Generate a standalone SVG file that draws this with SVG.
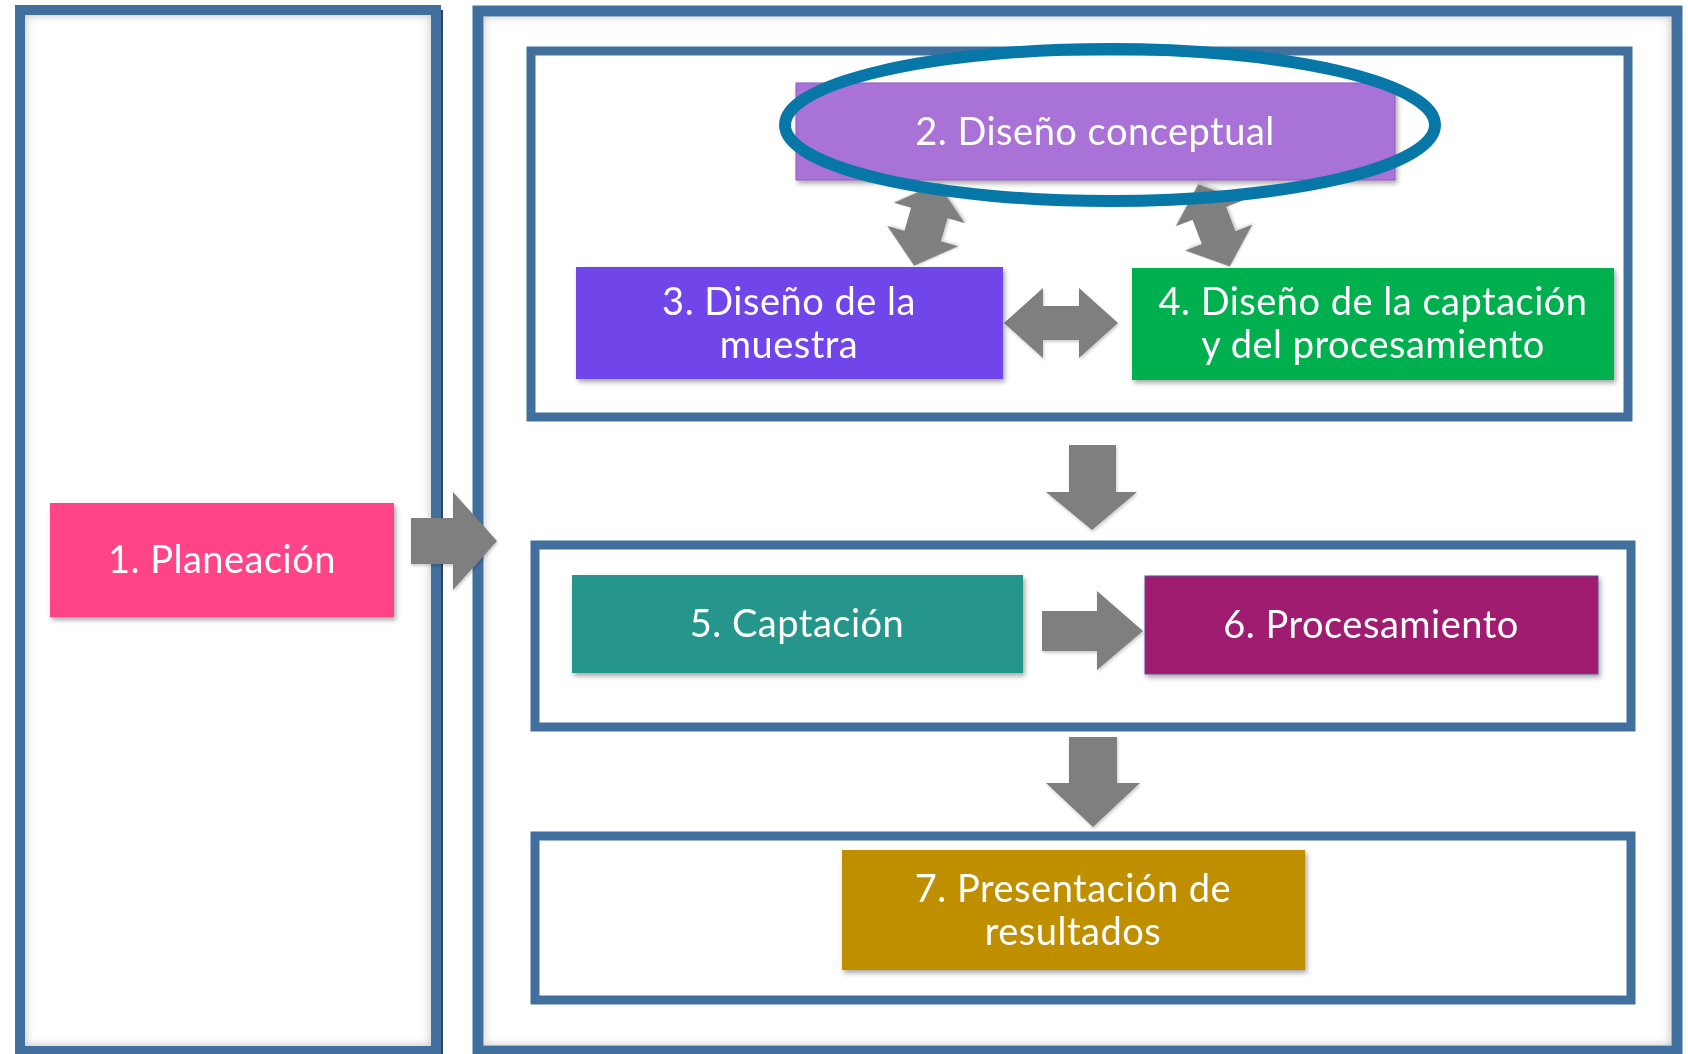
<svg xmlns="http://www.w3.org/2000/svg" width="1688" height="1054" viewBox="0 0 1688 1054">
<style>
.panel{fill:#ffffff;stroke:#41709E}
.box{fill:#ffffff;stroke:#41709E;stroke-width:9}
.bevel{fill:none;stroke:#9a9a9a;stroke-width:8;opacity:0.55}
.node{filter:url(#shadow)}
.lbl{font-family:Lato,"Open Sans","Liberation Sans",sans-serif;font-size:38px;letter-spacing:0.5px;fill:#ffffff;text-anchor:middle}
.arrow{fill:#7F7F7F;filter:url(#ashadow)}
</style>
<defs>
<filter id="shadow" x="-10%" y="-20%" width="120%" height="150%">
<feDropShadow dx="2" dy="3" stdDeviation="2.5" flood-color="#000" flood-opacity="0.35"/>
</filter>
<filter id="ashadow" x="-20%" y="-20%" width="140%" height="140%">
<feDropShadow dx="1" dy="2" stdDeviation="1.5" flood-color="#000" flood-opacity="0.2"/>
</filter>
<filter id="blur4"><feGaussianBlur stdDeviation="4"/></filter>
<clipPath id="clipL"><rect x="25" y="15" width="406" height="1031"/></clipPath>
<clipPath id="clipR"><rect x="483.5" y="16.5" width="1188" height="1029"/></clipPath>
</defs>

<g id="panel-left">
<rect class="panel" x="20" y="10" width="416" height="1041" stroke-width="10"/>
<g clip-path="url(#clipL)"><rect class="bevel" x="22" y="12" width="412" height="1037" filter="url(#blur4)"/></g>
<line x1="442" y1="10" x2="442" y2="1054" stroke="#2c4560" stroke-width="2"/>
</g>
<g id="panel-right">
<rect class="panel" x="478" y="11" width="1199" height="1040" stroke-width="11"/>
<g clip-path="url(#clipR)"><rect class="bevel" x="480" y="13" width="1194" height="1036" filter="url(#blur4)"/></g>
</g>

<g id="box-design"><rect class="box" x="531" y="51" width="1097" height="366"/></g>
<g id="box-capture"><rect class="box" x="535" y="545" width="1096" height="182"/></g>
<g id="box-results"><rect class="box" x="535" y="836" width="1096" height="164"/></g>

<g id="connectors">
<polygon class="arrow" points="411,518 453,518 453,492 497,541 453,590 453,564 411,564"/>
<polygon class="arrow" transform="translate(926,224.5) rotate(-74)" points="-43,0 -12,-37 -12,-19 12,-19 12,-37 43,0 12,37 12,19 -12,19 -12,37"/>
<polygon class="arrow" transform="translate(1214,225.5) rotate(-111)" points="-44,0 -13,-36 -13,-18 13,-18 13,-36 44,0 13,36 13,18 -13,18 -13,36"/>
<polygon class="arrow" points="1004,323 1043,288 1043,306 1079,306 1079,288 1118,323 1079,358 1079,340 1043,340 1043,358"/>
<polygon class="arrow" points="1069,445 1116,445 1116,492 1137,492 1092,530 1046,492 1069,492"/>
<polygon class="arrow" points="1042,611 1097,611 1097,591 1143,631 1097,670 1097,651 1042,651"/>
<polygon class="arrow" points="1069,737 1117,737 1117,783 1140,783 1093,827 1046,783 1069,783"/>
</g>

<g id="node-1" class="node">
<rect x="50" y="503" width="344" height="114" fill="#FF4587"/>
<text class="lbl" x="222" y="573">1. Planeación</text>
</g>
<g id="node-2" class="node">
<rect x="796" y="83" width="599" height="97" fill="#A872D6" stroke="#8d5bbb" stroke-width="1"/>
<text class="lbl" x="1095" y="145">2. Diseño conceptual</text>
</g>
<g id="node-3" class="node">
<rect x="576" y="267" width="427" height="112" fill="#6F45E9"/>
<text class="lbl" x="789" y="315">3. Diseño de la</text>
<text class="lbl" x="789" y="358">muestra</text>
</g>
<g id="node-4" class="node">
<rect x="1132" y="268" width="482" height="112" fill="#00B04F"/>
<text class="lbl" x="1373" y="315">4. Diseño de la captación</text>
<text class="lbl" x="1373" y="358">y del procesamiento</text>
</g>
<g id="node-5" class="node">
<rect x="572" y="575" width="451" height="98" fill="#27968C"/>
<text class="lbl" x="797" y="637">5. Captación</text>
</g>
<g id="node-6" class="node">
<rect x="1145" y="576" width="453" height="98" fill="#9F1F6F" stroke="#5a4f9a" stroke-width="1"/>
<text class="lbl" x="1371" y="638">6. Procesamiento</text>
</g>
<g id="node-7" class="node">
<rect x="842" y="850" width="463" height="120" fill="#BF8F00"/>
<text class="lbl" x="1073" y="902">7. Presentación de</text>
<text class="lbl" x="1073" y="945">resultados</text>
</g>

<g id="highlight">
<ellipse cx="1110" cy="125" rx="325" ry="76" fill="none" stroke="#0777A8" stroke-width="12"/>
</g>
</svg>
